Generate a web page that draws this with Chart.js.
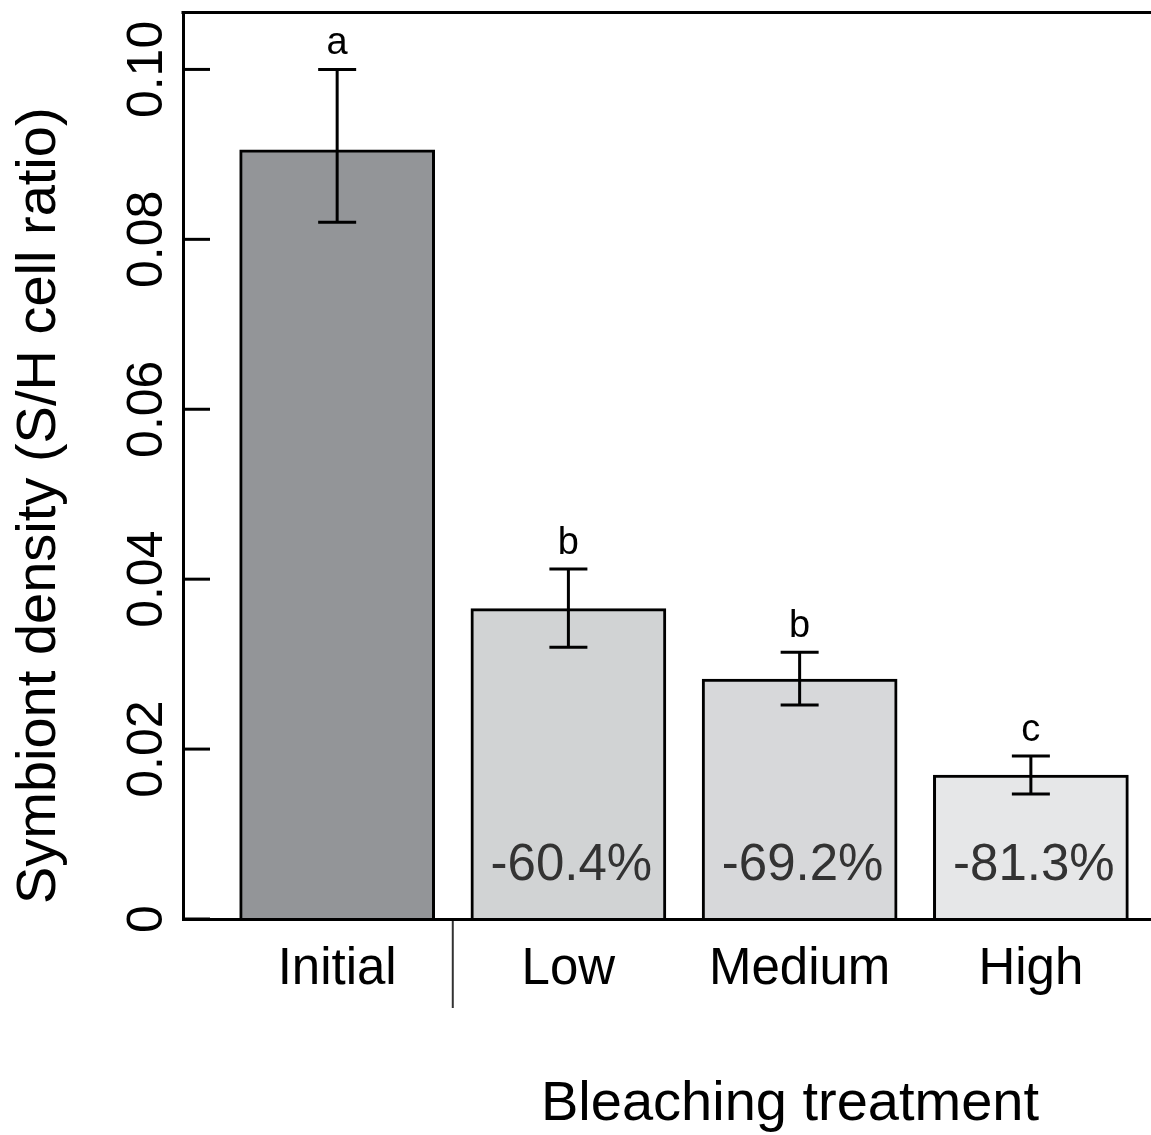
<!DOCTYPE html>
<html>
<head>
<meta charset="utf-8">
<title>Symbiont density by bleaching treatment</title>
<script src="https://cdn.jsdelivr.net/npm/chart.js@4/dist/chart.umd.min.js"></script>
<style>
  html, body { margin: 0; padding: 0; background: #fff; overflow: hidden; }
  canvas { display: block; }
</style>
</head>
<body>
<canvas id="chart" width="1420" height="1135"></canvas>
<script>
// Treatment groups and mean symbiont/host cell ratio with error-bar limits
const categories = ['Initial', 'Low', 'Medium', 'High'];
const density = [0.0904, 0.0364, 0.0281, 0.0168];
const errUpper = [0.1000, 0.0412, 0.0314, 0.0192];
const errLower = [0.0820, 0.0320, 0.0252, 0.0147];
const groupLetters = ['a', 'b', 'b', 'c'];
const changeLabels = ['', '-60.4%', '-69.2%', '-81.3%'];
const yTicks = [0, 0.02, 0.04, 0.06, 0.08, 0.10];
const yTickLabels = ['0', '0.02', '0.04', '0.06', '0.08', '0.10'];
const barColors = ['#939598', '#d1d3d4', '#d7d8da', '#e6e7e8'];

// barplot layout: bars one unit wide with a 0.2 unit gap
const barPos = categories.map((_, i) => 0.7 + 1.2 * i);
const FONT = '"Liberation Sans", Arial, Helvetica, sans-serif';

const annotate = {
  id: 'annotate',
  afterDatasetsDraw(chart) {
    const { ctx, chartArea: a, scales: { x, y } } = chart;
    ctx.save();
    ctx.strokeStyle = '#000';
    ctx.lineWidth = 3;
    ctx.lineCap = 'butt';

    // top edge of the plot frame
    ctx.beginPath();
    ctx.moveTo(a.left - 1.5, a.top);
    ctx.lineTo(a.right, a.top);
    ctx.stroke();

    // inward y tick marks
    yTicks.forEach(v => {
      const py = y.getPixelForValue(v);
      ctx.beginPath();
      ctx.moveTo(a.left, py);
      ctx.lineTo(a.left + 27, py);
      ctx.stroke();
    });

    // error bars, group letters and percent change
    const half = 19;
    barPos.forEach((p, i) => {
      const px = x.getPixelForValue(p);
      const top = y.getPixelForValue(errUpper[i]);
      const bot = y.getPixelForValue(errLower[i]);
      ctx.strokeStyle = '#000';
      ctx.lineWidth = 3;
      ctx.beginPath();
      ctx.moveTo(px, bot); ctx.lineTo(px, top);
      ctx.moveTo(px - half, top); ctx.lineTo(px + half, top);
      ctx.moveTo(px - half, bot); ctx.lineTo(px + half, bot);
      ctx.stroke();

      ctx.fillStyle = '#000';
      ctx.font = `38px ${FONT}`;
      ctx.textAlign = 'center';
      ctx.textBaseline = 'alphabetic';
      ctx.fillText(groupLetters[i], px, top - 15);

      if (changeLabels[i]) {
        ctx.fillStyle = '#333';
        ctx.font = `51px ${FONT}`;
        ctx.fillText(changeLabels[i], px + 3, y.getPixelForValue(0) - 39);
      }
    });

    // divider between the initial group and the treatments
    const sep = (x.getPixelForValue(barPos[0]) + x.getPixelForValue(barPos[1])) / 2;
    ctx.strokeStyle = '#333';
    ctx.lineWidth = 2;
    ctx.beginPath();
    ctx.moveTo(sep, a.bottom);
    ctx.lineTo(sep, a.bottom + 89);
    ctx.stroke();

    // y tick labels, parallel to the axis
    ctx.fillStyle = '#000';
    ctx.font = `50px ${FONT}`;
    ctx.textAlign = 'center';
    ctx.textBaseline = 'alphabetic';
    yTicks.forEach((v, i) => {
      ctx.save();
      ctx.translate(a.left - 21, y.getPixelForValue(v));
      ctx.rotate(-Math.PI / 2);
      ctx.fillText(yTickLabels[i], 0, 0);
      ctx.restore();
    });

    // axis titles
    ctx.font = `56px ${FONT}`;
    ctx.save();
    ctx.translate(55, (a.top + a.bottom) / 2 + 40);
    ctx.rotate(-Math.PI / 2);
    ctx.fillText('Symbiont density (S/H cell ratio)', 0, 0);
    ctx.restore();

    ctx.font = `56px ${FONT}`;
    ctx.fillText('Bleaching treatment', (a.left + a.right) / 2, a.bottom + 201);
    ctx.restore();
  }
};

new Chart(document.getElementById('chart'), {
  type: 'bar',
  data: {
    datasets: [{
      data: barPos.map((p, i) => ({ x: p, y: density[i] })),
      backgroundColor: barColors,
      borderColor: '#000',
      borderWidth: 3,
      borderSkipped: 'start',
      inflateAmount: 1.5,
      barPercentage: 1 / 1.2,
      categoryPercentage: 1
    }]
  },
  options: {
    responsive: false,
    animation: false,
    layout: { padding: { left: 0, top: 12.5, right: 23, bottom: 0 } },
    plugins: { legend: { display: false }, tooltip: { enabled: false } },
    scales: {
      x: {
        type: 'linear',
        offset: false,
        min: -0.1,
        max: 6.2,
        afterBuildTicks: s => { s.ticks = barPos.map(v => ({ value: v })); },
        afterFit: s => { s.height = 216; },
        ticks: {
          autoSkip: false, maxRotation: 0, minRotation: 0, padding: 20,
          color: '#000',
          font: { family: FONT, size: 51, lineHeight: 1.2 },
          callback: (v, i) => categories[i]
        },
        grid: { display: false, drawTicks: false, offset: false },
        border: { display: true, color: '#000', width: 3, z: 1 }
      },
      y: {
        min: 0,
        max: 0.1067,
        afterFit: s => { s.width = 183; },
        ticks: { display: false },
        grid: { display: false, drawTicks: false },
        border: { display: true, color: '#000', width: 3 }
      }
    }
  },
  plugins: [annotate]
});
</script>
</body>
</html>
